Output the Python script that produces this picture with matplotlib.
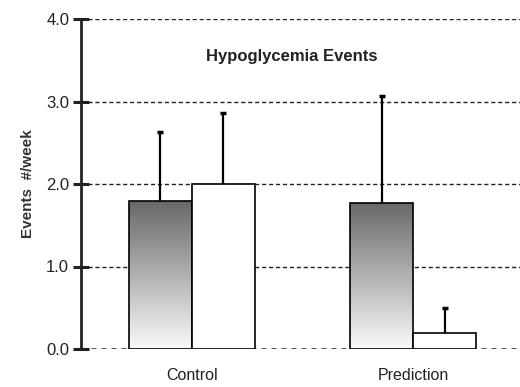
import numpy as np
import matplotlib
matplotlib.use("Agg")
from matplotlib import pyplot as plt
from matplotlib.patches import Rectangle

groups = ["Control", "Prediction"]
shaded_vals = [1.79, 1.77]
shaded_err = [0.84, 1.30]
white_vals = [2.0, 0.19]
white_err = [0.86, 0.31]

plt.rcParams['font.family'] = ['Liberation Sans', 'DejaVu Sans']

fig = plt.figure(figsize=(5.2, 3.87), dpi=100)
ax = fig.add_axes([81 / 520, 38 / 387, 1 - 81 / 520, 330 / 387])

x = np.arange(len(groups))
w = 0.285

# grid lines
for yv in [1.0, 2.0, 3.0, 4.0]:
    ax.axhline(yv, color='#222222', lw=1, dashes=(3, 2), zorder=1)
ax.axhline(0, color='#222222', lw=1.8, dashes=(2, 2), zorder=1)

# gradient for the shaded bars
grad = np.linspace(0, 1, 256).reshape(-1, 1)
cmap = matplotlib.colors.LinearSegmentedColormap.from_list('g', ['#fafafa', '#686868'])

bars1 = ax.bar(x - w / 2, shaded_vals, w, facecolor='none', edgecolor='black', lw=1.2, zorder=3)
for b in bars1:
    x0, y0 = b.get_x(), b.get_y()
    im = ax.imshow(grad, cmap=cmap, aspect='auto', origin='lower',
                   extent=[x0, x0 + b.get_width(), y0, y0 + b.get_height()], zorder=2)
    im.set_clip_path(Rectangle((x0, y0), b.get_width(), b.get_height(), transform=ax.transData))

ax.bar(x + w / 2, white_vals, w, facecolor='white', edgecolor='black', lw=1.2, zorder=3)

# upper error bars only, cap at the top
for xs, vals, errs in [(x - w / 2, shaded_vals, shaded_err), (x + w / 2, white_vals, white_err)]:
    tops = np.array(vals) + np.array(errs)
    ax.vlines(xs, vals, tops, color='black', lw=1.6, zorder=4)
    ax.plot(xs, tops, ls='none', marker='_', ms=5, mew=2.5, color='black', zorder=4)

ax.set_xlim(-0.502, 1.484)
ax.set_ylim(0, 4.0)

for s in ['top', 'right', 'bottom']:
    ax.spines[s].set_visible(False)
ax.spines['left'].set_linewidth(2)
ax.spines['left'].set_color('#222222')

ax.set_yticks([0, 1, 2, 3, 4])
ax.set_yticklabels(['0.0', '1.0', '2.0', '3.0', '4.0'], fontsize=12, color='#222222')
ax.tick_params(axis='y', direction='inout', length=11, width=2.2, color='#222222', pad=3)
ax.set_xticks(x)
ax.set_xticklabels(groups, fontsize=11.5, color='#222222')
ax.tick_params(axis='x', length=0, pad=14)

ax.set_ylabel('Events  #/week', fontsize=11, fontweight='bold', color='#333333', labelpad=8)
ax.text(0.45, 3.55, 'Hypoglycemia Events', fontsize=12, fontweight='bold',
        color='#222222', ha='center', va='center')

fig.savefig('out.png', dpi=100)
